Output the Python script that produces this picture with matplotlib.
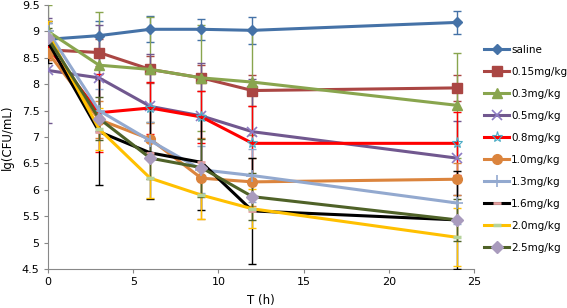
import matplotlib
matplotlib.use("Agg")
import matplotlib.pyplot as plt
import numpy as np

t = [0, 3, 6, 9, 12, 24]
labels = ["saline", "0.15mg/kg", "0.3mg/kg", "0.5mg/kg", "0.8mg/kg",
          "1.0mg/kg", "1.3mg/kg", "1.6mg/kg", "2.0mg/kg", "2.5mg/kg"]

saline = [8.85, 8.92, 9.04, 9.04, 9.02, 9.17]
d015 = [8.65, 8.60, 8.28, 8.12, 7.88, 7.93]
d03 = [9.00, 8.36, 8.28, 8.12, 8.04, 7.60]
d05 = [8.26, 8.12, 7.58, 7.40, 7.10, 6.60]
d08 = [8.70, 7.46, 7.55, 7.38, 6.88, 6.88]
d10 = [8.60, 7.33, 6.96, 6.22, 6.15, 6.20]
d13 = [9.00, 7.50, 6.93, 6.38, 6.27, 5.75]
d16 = [8.80, 7.10, 6.70, 6.52, 5.60, 5.43]
d20 = [8.95, 7.15, 6.22, 5.90, 5.64, 5.10]
d25 = [8.87, 7.35, 6.60, 6.42, 5.87, 5.43]

e_saline = [0.30, 0.28, 0.25, 0.20, 0.25, 0.22]
e015 = [0.20, 0.25, 0.25, 0.25, 0.30, 0.25]
e03 = [0.50, 1.00, 1.00, 1.00, 1.00, 1.00]
e05 = [1.00, 1.00, 1.00, 1.00, 1.00, 0.70]
e08 = [0.20, 0.74, 0.50, 0.50, 0.70, 0.60]
e10 = [0.15, 0.35, 0.30, 0.77, 0.45, 0.30]
e13 = [0.15, 0.40, 0.35, 0.45, 0.50, 0.40]
e16 = [0.40, 1.00, 0.87, 0.90, 1.00, 0.93]
e20 = [0.25, 0.40, 0.37, 0.45, 0.37, 0.55]
e25 = [0.20, 0.40, 0.40, 0.55, 0.45, 0.40]

series = [saline, d015, d03, d05, d08, d10, d13, d16, d20, d25]
errors = [e_saline, e015, e03, e05, e08, e10, e13, e16, e20, e25]

styles = [
    dict(color="#4572A7", marker="D", ms=5, mfc="#4572A7", mec="#4572A7"),
    dict(color="#AA4643", marker="s", ms=7, mfc="#AA4643", mec="#AA4643"),
    dict(color="#89A54E", marker="^", ms=7, mfc="#89A54E", mec="#89A54E"),
    dict(color="#71588F", marker="x", ms=7, mfc="#71588F", mec="#8E7CC3", mew=1.2),
    dict(color="#FF0000", marker="*", ms=8, mfc="none", mec="#4BACC6", mew=0.8),
    dict(color="#DB843D", marker="o", ms=7, mfc="#DB843D", mec="#DB843D"),
    dict(color="#93A9CF", marker="+", ms=8, mfc="#93A9CF", mec="#93A9CF", mew=1.2),
    dict(color="#000000", marker="_", ms=6, mfc="#E6A0A0", mec="#E6A0A0", mew=2),
    dict(color="#FFC000", marker="_", ms=6, mfc="#B5D39B", mec="#B5D39B", mew=2.5),
    dict(color="#4F6228", marker="D", ms=6, mfc="#A99BBD", mec="#A99BBD"),
]

fig = plt.figure(figsize=(5.67, 3.08), dpi=100)
ax = fig.add_axes([48/567, 1-269/308, (474-48)/567, (269-5)/308])

handles = []
for i, (y, e, st) in enumerate(zip(series, errors, styles)):
    st = dict(st)
    c = st.pop("color")
    ax.errorbar(t, y, yerr=e, fmt="none", ecolor=c, elinewidth=1.0,
                capsize=3, capthick=1.0, zorder=2+i*0.1)
    h, = ax.plot(t, y, color=c, lw=2.2, zorder=3+i*0.1, **st)
    handles.append(h)

ax.set_xlim(0, 25)
ax.set_ylim(4.5, 9.5)
ax.set_xticks([0, 5, 10, 15, 20, 25])
ax.set_yticks([4.5, 5, 5.5, 6, 6.5, 7, 7.5, 8, 8.5, 9, 9.5])
ax.set_yticklabels(["4.5", "5", "5.5", "6", "6.5", "7", "7.5", "8", "8.5", "9", "9.5"])
for s in ["top", "right"]:
    ax.spines[s].set_visible(False)
for s in ["left", "bottom"]:
    ax.spines[s].set_color("#888888")
    ax.spines[s].set_linewidth(0.8)
ax.tick_params(axis="both", labelsize=8, color="#888888", length=3, width=0.8, pad=3)
ax.set_xlabel("T (h)", fontsize=8.5, labelpad=5)
ax.set_ylabel("lg(CFU/mL)", fontsize=8.5, labelpad=6)

fig.legend(handles, labels, loc="upper left", bbox_to_anchor=(484/567, 1-45/308),
           frameon=False, fontsize=7.5, handlelength=2.4, handletextpad=0.2,
           labelspacing=1.15, borderaxespad=0, borderpad=0)

fig.savefig("out.png", dpi=100)
